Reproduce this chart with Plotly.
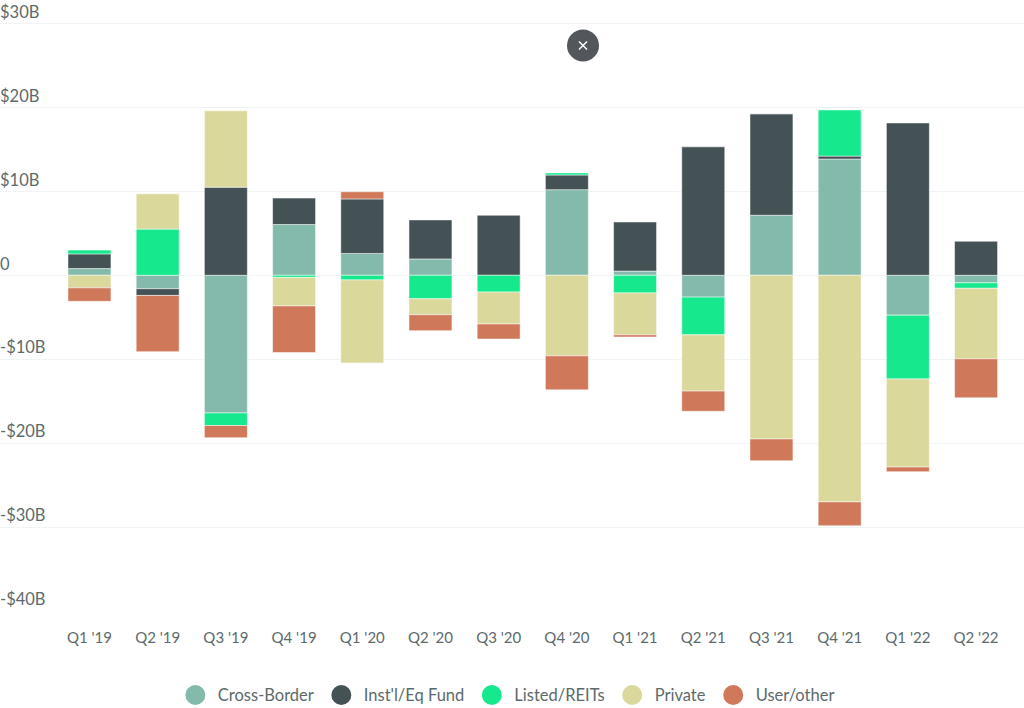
import plotly.graph_objects as go

quarters = ["Q1 '19","Q2 '19","Q3 '19","Q4 '19","Q1 '20","Q2 '20","Q3 '20","Q4 '20","Q1 '21","Q2 '21","Q3 '21","Q4 '21","Q1 '22","Q2 '22"]
cross_border = [0.8,-1.6,-16.4,6.05,2.6,1.95,0,10.2,0.5,-2.6,7.15,13.85,-4.75,-0.9]
inst_eq_fund = [1.75,-0.8,10.5,3.15,6.5,4.65,7.15,1.75,5.85,15.3,12.1,0.35,18.15,4.05]
listed_reits = [0.45,5.5,-1.5,-0.25,-0.55,-2.8,-2.0,0.25,-2.1,-4.5,0,5.5,-7.6,-0.65]
private = [-1.5,4.2,9.1,-3.4,-9.9,-1.9,-3.8,-9.6,-5.0,-6.7,-19.5,-27.0,-10.5,-8.4]
user_other = [-1.6,-6.7,-1.45,-5.55,0.85,-1.9,-1.8,-4.05,-0.25,-2.4,-2.6,-2.85,-0.55,-4.65]

series = [("Cross-Border",cross_border,"#84baab"),("Inst'l/Eq Fund",inst_eq_fund,"#445256"),
          ("Listed/REITs",listed_reits,"#16e98d"),("Private",private,"#dbd89b"),("User/other",user_other,"#cf785a")]
y_ticks = [30,20,10,0,-10,-20,-30,-40]
y_labels = ["$30B","$20B","$10B","0","-$10B","-$20B","-$30B","-$40B"]

FONT = "Lato"
TXT = "#5d6a6b"
fig = go.Figure()
for name, vals, col in series:
    fig.add_trace(go.Bar(x=quarters, y=vals, name=name, showlegend=False,
                         marker=dict(color=col, line=dict(color="white", width=0.5))))
for name, vals, col in series:
    fig.add_trace(go.Scatter(x=[None], y=[None], name=name, mode="markers",
                             marker=dict(color=col, size=16, symbol="circle", line=dict(color=col, width=4))))

def px(x): return x/1024
def py(y): return (611-y)/611

fig.update_layout(
    width=1024, height=708, autosize=False,
    margin=dict(l=0, r=0, t=0, b=97),
    paper_bgcolor="white", plot_bgcolor="white",
    barmode="relative", bargap=0.37,
    font=dict(family=FONT, color=TXT, size=16),
    xaxis=dict(type="category", categoryorder="array", categoryarray=quarters,
               range=[-1.312, 13.703], showgrid=False, zeroline=False, showline=False,
               ticks="", tickfont=dict(size=15, color=TXT), ticklabelstandoff=16),
    yaxis=dict(range=[-40, 32.8], tickvals=y_ticks, ticktext=y_labels, showgrid=True,
               gridcolor="#f1f4f4", gridwidth=1, zeroline=False, showline=False, ticks="",
               ticklabelposition="inside top", ticklabelstandoff=-3,
               tickfont=dict(size=16.5, color=TXT)),
    legend=dict(orientation="h", x=0.4945, xanchor="center", y=0.018, yanchor="middle", yref="container",
                font=dict(size=16.5, color=TXT), itemsizing="trace", itemwidth=35, itemclick=False,
                bgcolor="rgba(0,0,0,0)"),
    shapes=[dict(type="circle", xref="paper", yref="paper", layer="above",
                 x0=px(567), x1=px(599), y0=py(61.5), y1=py(29.5),
                 fillcolor="#53575b", line=dict(width=0)),
            dict(type="line", xref="paper", yref="paper", layer="above",
                 x0=px(579), x1=px(587), y0=py(41.5), y1=py(49.5), line=dict(color="white", width=1.5)),
            dict(type="line", xref="paper", yref="paper", layer="above",
                 x0=px(579), x1=px(587), y0=py(49.5), y1=py(41.5), line=dict(color="white", width=1.5))],
)
fig.write_html("out.html", config=dict(displayModeBar=False),
               post_script="document.body.style.margin='0';document.documentElement.style.margin='0';")
